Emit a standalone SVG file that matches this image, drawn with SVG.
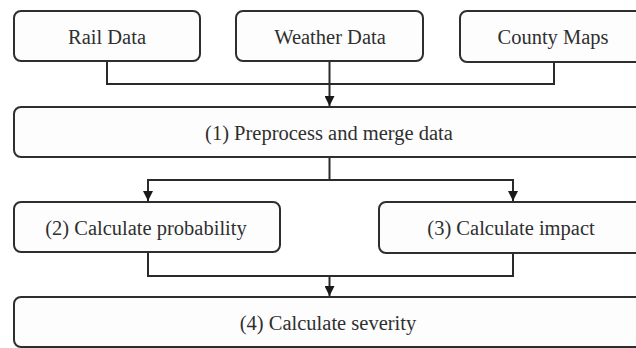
<svg xmlns="http://www.w3.org/2000/svg" width="636" height="348" viewBox="0 0 636 348">
<style>
.box{fill:#fdfdfd;stroke:#2e2e2e;stroke-width:2}
.lbl{font-family:"Liberation Serif","Times New Roman",serif;font-size:20.5px;fill:#2f2f2f;text-anchor:middle}
.ln{fill:none;stroke:#2a2a2a;stroke-width:2}
</style>
<defs>
<marker id="ah" markerUnits="userSpaceOnUse" markerWidth="10" markerHeight="10" refX="10" refY="5" orient="auto" viewBox="0 0 10 10">
<path d="M0,0 L10,5 L0,10 Z" fill="#1a1a1a"/>
</marker>
</defs>
<rect width="636" height="348" fill="#fff"/>
<g id="connectors">
<path class="ln" d="M107,61 V84 H554 V62"/>
<path class="ln" d="M329.5,61 V106" marker-end="url(#ah)"/>
<path class="ln" d="M329.5,157 V180"/>
<path class="ln" d="M148,180 H513"/>
<path class="ln" d="M148,179 V201" marker-end="url(#ah)"/>
<path class="ln" d="M513,179 V201" marker-end="url(#ah)"/>
<path class="ln" d="M148,252 V276 H513 V253"/>
<path class="ln" d="M329.5,276 V296" marker-end="url(#ah)"/>
</g>
<g id="rail">
<rect class="box" x="14" y="11" width="186" height="50" rx="7"/>
<text class="lbl" x="107" y="44">Rail Data</text>
</g>
<g id="weather">
<rect class="box" x="236" y="11" width="187" height="50" rx="7"/>
<text class="lbl" x="330" y="44">Weather Data</text>
</g>
<g id="county">
<rect class="box" x="460" y="11" width="190" height="51" rx="7"/>
<text class="lbl" x="553" y="44">County Maps</text>
</g>
<g id="preprocess">
<rect class="box" x="14" y="107" width="636" height="50" rx="7"/>
<text class="lbl" x="329" y="140">(1) Preprocess and merge data</text>
</g>
<g id="probability">
<rect class="box" x="14" y="202" width="266" height="50" rx="7"/>
<text class="lbl" x="146" y="235">(2) Calculate probability</text>
</g>
<g id="impact">
<rect class="box" x="379" y="202" width="270" height="51" rx="7"/>
<text class="lbl" x="511" y="235">(3) Calculate impact</text>
</g>
<g id="severity">
<rect class="box" x="14" y="297" width="636" height="50" rx="7"/>
<text class="lbl" x="328" y="330">(4) Calculate severity</text>
</g>
</svg>
